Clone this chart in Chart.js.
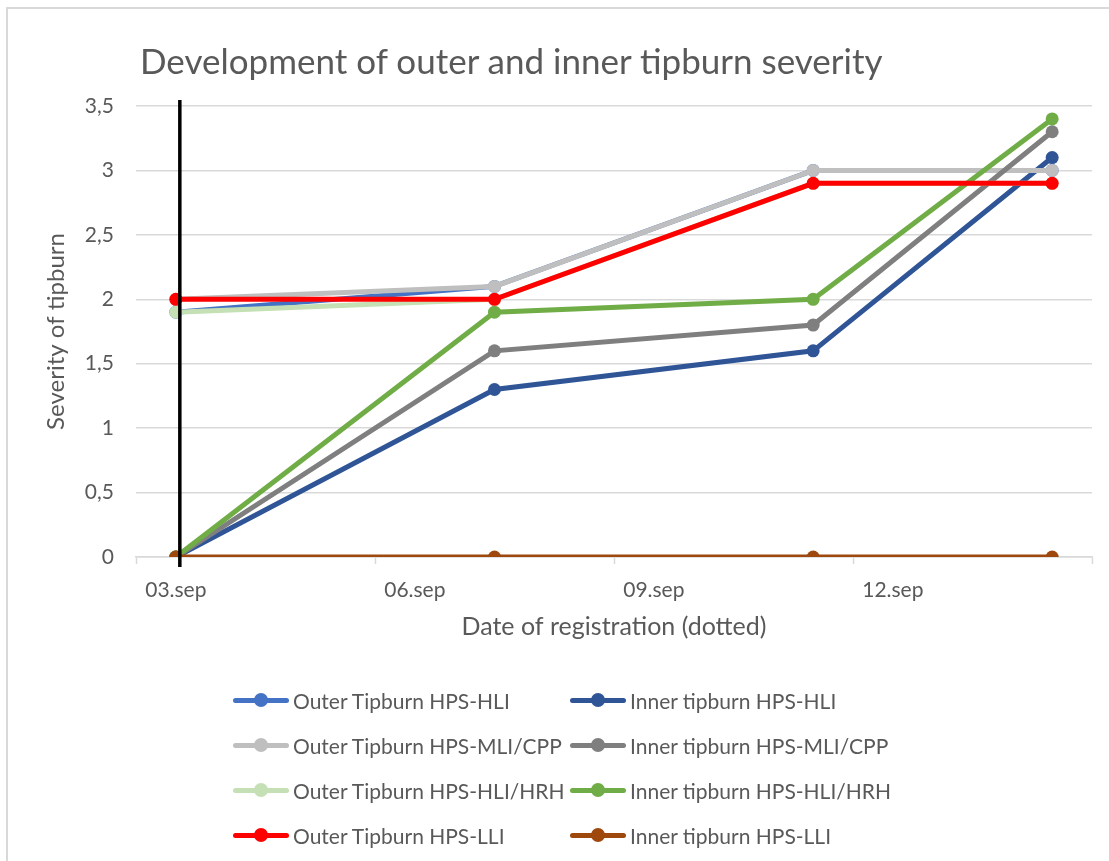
<!DOCTYPE html>
<html>
<head>
<meta charset="utf-8">
<script src="https://cdn.jsdelivr.net/npm/chart.js@4.4.0/dist/chart.umd.min.js"></script>
<style>
    body { margin: 0; background: #fff; font-family: Lato, "Open Sans", sans-serif; }
    #wrap { position: relative; width: 1109px; height: 861px; overflow: hidden; }
    #wrap canvas { position: absolute; left: 0; top: 0; }
    #frame { position: absolute; left: 6px; top: 7px; width: 1110px; height: 870px;
             border-left: 2px solid #d9d9d9; border-top: 2px solid #d9d9d9; }
    #title { position: absolute; left: 140px; top: 39px; font-size: 35px; color: #595959; white-space: nowrap; }
    #legend { position: absolute; left: 233px; top: 685px; display: grid;
              grid-template-columns: 337px 340px; row-gap: 15px; }
    .item { display: flex; align-items: center; height: 30px; font-size: 21px; color: #595959; white-space: nowrap; }
    .sym { position: relative; width: 58px; height: 30px; margin-right: 2px; }
    .sym .ln { position: absolute; left: 0; right: 2px; top: 12.5px; height: 5px; border-radius: 3px; }
    .sym .dt { position: absolute; left: 21px; top: 8px; width: 14px; height: 14px; border-radius: 50%; }
</style>
</head>
<body>
<div id="wrap">
    <div id="frame"></div>
    <canvas id="tipChart" width="1109" height="861"></canvas>
    <div id="title">Development of outer and inner tipburn severity</div>
    <div id="legend"></div>
</div>
<script>
// registration days (September)
const regDays = [3, 7, 11, 14];
const axisLabelDays = [3, 6, 9, 12];
const yTicks = [0, 0.5, 1, 1.5, 2, 2.5, 3, 3.5];

const seriesNames = [
    'Outer Tipburn HPS-HLI', 'Inner tipburn HPS-HLI',
    'Outer Tipburn HPS-MLI/CPP', 'Inner tipburn HPS-MLI/CPP',
    'Outer Tipburn HPS-HLI/HRH', 'Inner tipburn HPS-HLI/HRH',
    'Outer Tipburn HPS-LLI', 'Inner tipburn HPS-LLI'
];
const seriesColors = ['#4472C4', '#2F5597', '#BFBFBF', '#7F7F7F', '#C5E0B4', '#70AD47', '#FF0000', '#9E480E'];

const outerHLI = [1.9, 2.1, 3.0, 3.0];
const innerHLI = [0, 1.3, 1.6, 3.1];
const outerMLI = [2.0, 2.1, 3.0, 3.0];
const innerMLI = [0, 1.6, 1.8, 3.3];
const outerHRH = [1.9, 2.0, 2.9, 2.9];
const innerHRH = [0, 1.9, 2.0, 3.4];
const outerLLI = [2.0, 2.0, 2.9, 2.9];
const innerLLI = [0, 0, 0, 0];

const seriesValues = [outerHLI, innerHLI, outerMLI, innerMLI, outerHRH, innerHRH, outerLLI, innerLLI];

const textColor = '#595959';
const gridColor = '#D9D9D9';

const datasets = seriesValues.map((vals, i) => ({
    label: seriesNames[i],
    data: vals.map((v, j) => ({ x: regDays[j], y: v })),
    borderColor: seriesColors[i],
    backgroundColor: seriesColors[i],
    borderWidth: 5,
    pointRadius: 6.5,
    pointBorderWidth: 0,
    pointHoverRadius: 6.5,
    tension: 0,
    order: seriesValues.length - i // later series on top, like the original
}));

// black marker line at the first registration date
const markerLine = {
    id: 'markerLine',
    afterDatasetsDraw(chart) {
        const { ctx, chartArea, scales } = chart;
        const x = scales.x.getPixelForValue(regDays[0]) + 4;
        ctx.save();
        ctx.strokeStyle = '#000';
        ctx.lineWidth = 3.5;
        ctx.beginPath();
        ctx.moveTo(x, chartArea.top - 6);
        ctx.lineTo(x, chartArea.bottom + 10);
        ctx.stroke();
        ctx.restore();
    }
};

new Chart(document.getElementById('tipChart'), {
    type: 'line',
    data: { datasets },
    options: {
        responsive: false,
        animation: false,
        layout: { padding: { left: 40, right: 17, top: 106, bottom: 214 } },
        plugins: { legend: { display: false }, tooltip: { enabled: false } },
        scales: {
            x: {
                type: 'linear',
                min: regDays[0] - 0.5,
                max: regDays[regDays.length - 1] + 0.5,
                afterBuildTicks: (scale) => {
                    const t = [];
                    axisLabelDays.forEach(d => { t.push({ value: d - 0.5 }); t.push({ value: d }); });
                    t.push({ value: scale.max });
                    scale.ticks = t;
                },
                afterFit: (scale) => { scale.height = 90; },
                ticks: {
                    autoSkip: false,
                    maxRotation: 0,
                    padding: 14,
                    color: textColor,
                    font: { family: 'Lato', size: 21 },
                    callback: (v) => Number.isInteger(v) ? String(v).padStart(2, '0') + '.sep' : ''
                },
                grid: {
                    drawOnChartArea: false,
                    tickLength: 7,
                    tickWidth: 1.5,
                    tickColor: (c) => Number.isInteger(c.tick.value) ? 'rgba(0,0,0,0)' : gridColor
                },
                border: { color: gridColor, width: 1.5 },
                title: {
                    display: true,
                    text: 'Date of registration (dotted)',
                    color: textColor,
                    font: { family: 'Lato', size: 25 },
                    padding: { top: 4, bottom: 5 }
                }
            },
            y: {
                min: 0,
                max: 3.5,
                afterBuildTicks: (scale) => { scale.ticks = yTicks.map(v => ({ value: v })); },
                afterFit: (scale) => { scale.width = 96; },
                ticks: {
                    padding: 22,
                    color: textColor,
                    font: { family: 'Lato', size: 21 },
                    callback: (v) => String(v).replace('.', ',')
                },
                grid: { color: gridColor, lineWidth: 1.5, drawTicks: false },
                border: { display: false },
                title: {
                    display: true,
                    text: 'Severity of tipburn',
                    color: textColor,
                    font: { family: 'Lato', size: 24 },
                    padding: { top: 2, bottom: 4 }
                }
            }
        }
    },
    plugins: [markerLine]
});

// legend in two columns
const legend = document.getElementById('legend');
seriesNames.forEach((name, i) => {
    const item = document.createElement('div');
    item.className = 'item';
    item.innerHTML = `<span class="sym"><span class="ln" style="background:${seriesColors[i]}"></span>` +
        `<span class="dt" style="background:${seriesColors[i]}"></span></span>${name}`;
    legend.appendChild(item);
});
</script>
</body>
</html>
